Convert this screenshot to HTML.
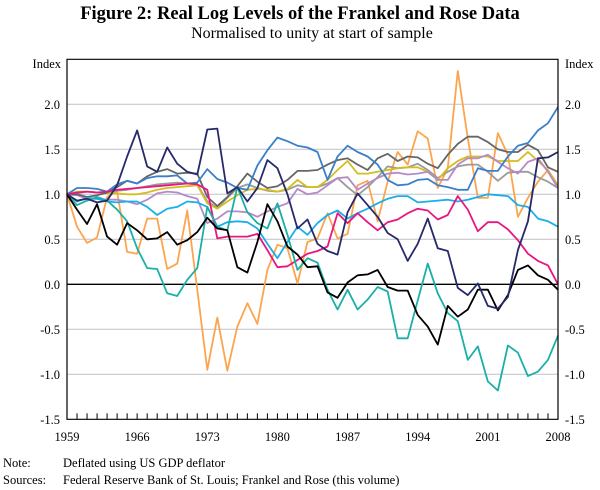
<!DOCTYPE html>
<html><head><meta charset="utf-8">
<style>
body{margin:0;background:#fff;}
svg{display:block;font-family:"Liberation Serif",serif;}
</style></head>
<body>
<svg id="chart" width="600" height="490" viewBox="0 0 600 490" xmlns="http://www.w3.org/2000/svg">
<text x="300" y="19" text-anchor="middle" font-size="18.5" font-weight="bold">Figure 2: Real Log Levels of the Frankel and Rose Data</text>
<text x="312" y="38" text-anchor="middle" font-size="16">Normalised to unity at start of sample</text>
<text x="61" y="68" text-anchor="end" font-size="12.5">Index</text>
<text x="565" y="68" font-size="12.5">Index</text>
<g id="grid"></g>
<g id="series"></g>
<g id="axes"></g>
<text x="3" y="467" font-size="12.5">Note:</text>
<text x="63" y="467" font-size="12.5">Deflated using US GDP deflator</text>
<text x="3" y="484" font-size="12.5">Sources:</text>
<text x="63" y="484" font-size="12.5">Federal Reserve Bank of St. Louis; Frankel and Rose (this volume)</text>
</svg>
<script>
const yearStart = 1959;
const yearEnd = 2008;
const xTickLabels = [1959,1966,1973,1980,1987,1994,2001,2008];
const yTicks = [-1.5,-1.0,-0.5,0.0,0.5,1.0,1.5,2.0];
const navy = [1.0,0.93,0.95,0.91,0.93,1.1,1.42,1.71,1.31,1.25,1.52,1.34,1.25,1.22,1.72,1.73,1.01,1.08,0.92,1.07,1.38,1.29,1.0,0.62,0.72,0.45,0.37,0.33,0.8,1.01,0.88,0.75,0.57,0.5,0.26,0.45,0.73,0.4,0.37,-0.04,-0.12,0.01,-0.24,-0.27,-0.14,0.38,0.7,1.4,1.41,1.47];
const black = [1.0,0.83,0.67,0.89,0.53,0.44,0.68,0.6,0.5,0.51,0.58,0.44,0.49,0.58,0.74,0.62,0.6,0.19,0.13,0.47,0.89,0.7,0.42,0.33,0.19,0.2,-0.09,-0.15,0.02,0.1,0.11,0.16,-0.03,-0.07,-0.07,-0.34,-0.47,-0.67,-0.24,-0.36,-0.28,-0.06,-0.06,-0.29,-0.12,0.16,0.21,0.1,0.05,-0.06];
const teal = [1.0,0.88,0.93,0.97,0.93,0.83,0.7,0.4,0.18,0.17,-0.1,-0.13,0.05,0.18,0.86,0.64,0.6,1.08,0.8,0.68,0.62,0.9,0.55,0.16,0.29,0.24,-0.06,-0.28,-0.06,-0.28,-0.17,-0.03,-0.08,-0.6,-0.6,-0.18,0.23,-0.1,-0.32,-0.41,-0.84,-0.69,-1.08,-1.18,-0.68,-0.76,-1.02,-0.97,-0.84,-0.57];
const orange = [1.0,0.64,0.46,0.52,0.97,1.03,0.36,0.34,0.73,0.73,0.17,0.23,0.82,-0.06,-0.95,-0.37,-0.96,-0.47,-0.21,-0.44,0.16,0.44,0.4,0.01,0.47,0.51,0.79,0.51,0.56,1.1,1.15,0.7,1.14,1.47,1.33,1.7,1.62,1.07,1.29,2.37,1.62,0.96,0.96,1.68,1.44,0.75,0.96,1.14,1.27,1.1];
const pink = [1.0,1.02,1.03,1.02,1.03,1.05,1.06,1.07,1.08,1.09,1.1,1.11,1.12,1.11,1.05,0.51,0.53,0.53,0.53,0.56,0.38,0.19,0.2,0.27,0.34,0.37,0.42,0.79,0.68,0.79,0.69,0.6,0.69,0.72,0.79,0.84,0.82,0.72,0.77,0.98,0.83,0.59,0.69,0.69,0.61,0.49,0.34,0.26,0.21,0.0];
const sky = [1.0,0.92,0.96,0.95,0.92,0.91,0.92,0.92,0.86,0.77,0.84,0.86,0.92,0.91,0.86,0.64,0.69,0.7,0.69,0.62,0.45,0.29,0.47,0.64,0.55,0.68,0.77,0.82,0.73,0.79,0.84,0.9,0.95,0.98,0.98,0.91,0.92,0.93,0.94,0.92,0.94,0.97,1.0,0.99,0.98,0.88,0.86,0.73,0.7,0.64];
const steel = [1.0,1.07,1.07,1.06,1.03,1.11,1.15,1.12,1.18,1.2,1.2,1.21,1.12,1.13,1.28,1.17,1.13,1.07,1.05,1.32,1.49,1.63,1.59,1.54,1.52,1.47,1.16,1.42,1.54,1.47,1.42,1.33,1.16,1.1,1.11,1.16,1.17,1.1,1.08,1.05,1.05,1.29,1.26,1.26,1.42,1.54,1.57,1.71,1.79,1.97];
const darkGray = [1.0,1.0,0.97,0.99,1.02,1.08,1.15,1.12,1.2,1.25,1.28,1.23,1.24,1.23,0.97,0.87,0.97,1.09,1.23,1.14,1.07,1.09,1.16,1.26,1.26,1.27,1.33,1.38,1.4,1.33,1.27,1.4,1.45,1.37,1.42,1.41,1.34,1.29,1.44,1.56,1.64,1.64,1.58,1.5,1.47,1.47,1.55,1.49,1.3,1.25];
const lightGray = [1.0,1.01,1.03,1.02,1.02,1.04,1.05,1.07,1.09,1.11,1.12,1.13,1.12,1.11,0.92,0.85,0.96,1.07,1.11,1.07,1.04,1.03,1.05,1.1,1.08,1.08,1.12,1.18,1.08,0.99,1.08,1.19,1.31,1.29,1.3,1.34,1.27,1.18,1.25,1.31,1.33,1.33,1.25,1.15,1.24,1.25,1.25,1.19,1.14,1.07];
const yellow = [1.0,1.03,1.03,1.02,1.01,1.01,1.0,1.0,1.02,1.05,1.07,1.08,1.09,1.1,0.9,0.84,0.92,0.99,1.05,1.06,1.05,1.03,1.06,1.16,1.08,1.08,1.16,1.27,1.37,1.23,1.23,1.25,1.27,1.29,1.3,1.3,1.25,1.16,1.29,1.37,1.42,1.42,1.42,1.37,1.37,1.37,1.47,1.37,1.27,1.08];
const purple = [1.0,0.99,0.95,0.95,0.94,0.94,0.92,0.89,0.94,1.01,1.03,1.02,0.98,0.95,0.68,0.73,0.81,0.81,0.8,0.75,0.81,0.86,0.9,1.06,1.0,1.02,1.1,1.18,1.19,1.05,1.12,1.18,1.23,1.24,1.22,1.23,1.25,1.16,1.16,1.33,1.4,1.4,1.44,1.36,1.29,1.23,1.36,1.4,1.25,1.07];

const NS='http://www.w3.org/2000/svg';
const L=67,R=558,T=59.3,B=419.3;
const yMin=-1.5,yMax=2.5;
function xScale(year){return L+(year-yearStart)/(yearEnd-yearStart)*(R-L);}
function yScale(v){return B-(v-yMin)/(yMax-yMin)*(B-T);}
function mk(tag,attrs,parent){const e=document.createElementNS(NS,tag);for(const k in attrs)e.setAttribute(k,attrs[k]);parent.appendChild(e);return e;}
const grid=document.getElementById('grid'),axes=document.getElementById('axes'),sg=document.getElementById('series');
yTicks.forEach(v=>{
  const y=yScale(v);
  if(v!==yMin){
    const g=mk('line',{x1:L,x2:R,y1:y,y2:y,stroke:v===0?'#000':'#c8c8d0','stroke-width':v===0?1.3:1.2},grid);
    
    
  }
  const lab=v.toFixed(1);
  const t1=mk('text',{x:L-7,y:y+4.5,'text-anchor':'end','font-size':12.5},axes);t1.textContent=lab;
  
  
  const t2=mk('text',{x:R+7,y:y+4.5,'font-size':12.5},axes);t2.textContent=lab;
  
  
});
const frame=mk('path',{d:`M${L},${T}H${R}V${B}H${L}Z`,fill:'none',stroke:'#000','stroke-width':1.2},axes);


for(let yr=yearStart;yr<=yearEnd;yr++){
  const x=xScale(yr);
  const tk=mk('line',{x1:x,x2:x,y1:B,y2:B-6,stroke:'#000','stroke-width':1},axes);
  
  
}
xTickLabels.forEach(yr=>{
  const t=mk('text',{x:xScale(yr),y:441,'text-anchor':'middle','font-size':12.5},axes);t.textContent=yr;
  
  
});
const seriesList=[
 ['orange-series',orange,'#fba54e'],
 ['light-gray-series',lightGray,'#9a9a9a'],
 ['yellow-series',yellow,'#d6bc1c'],
 ['purple-series',purple,'#b58ac8'],
 ['dark-gray-series',darkGray,'#666666'],
 ['steel-blue-series',steel,'#3a80c8'],
 ['sky-blue-series',sky,'#1aaeea'],
 ['pink-series',pink,'#e8177f'],
 ['teal-series',teal,'#1ab0a8'],
 ['black-series',black,'#000000'],
 ['navy-series',navy,'#262a6a']
];
seriesList.forEach(([name,vals,col])=>{
  const d=vals.map((v,i)=>(i?'L':'M')+xScale(yearStart+i).toFixed(2)+','+yScale(v).toFixed(2)).join('');
  const p=mk('path',{d:d,fill:'none',stroke:col,'stroke-width':1.8,'stroke-linejoin':'round'},sg);
  
  
});
</script>
</body></html>
